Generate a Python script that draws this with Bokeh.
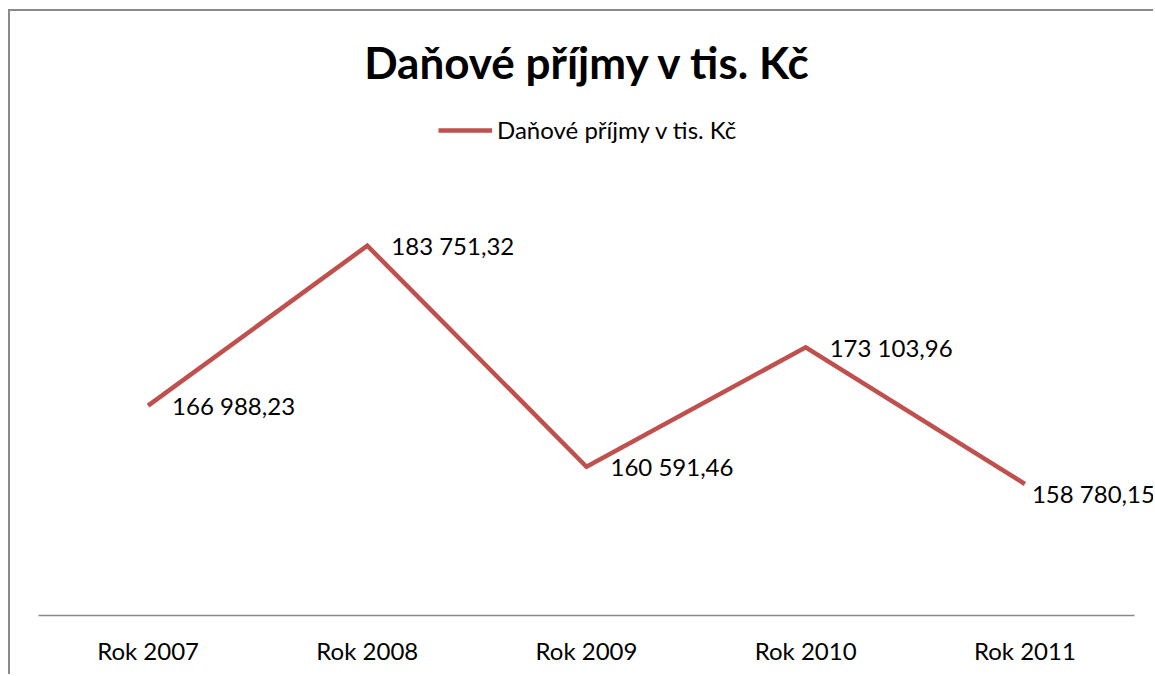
from bokeh.plotting import figure
from bokeh.models import (ColumnDataSource, Range1d, LabelSet, Label, Legend, LegendItem,
                          LinearAxis, FixedTicker)
from bokeh.core.properties import value
from bokeh.embed import file_html
from bokeh.resources import INLINE

title_text = "Daňové příjmy v tis. Kč"
series_name = "Daňové příjmy v tis. Kč"
categories = ["Rok 2007", "Rok 2008", "Rok 2009", "Rok 2010", "Rok 2011"]
values = [166988.23, 183751.32, 160591.46, 173103.96, 158780.15]
labels = ["166 988,23", "183 751,32", "160 591,46", "173 103,96", "158 780,15"]

FONT = "Lato"
RED = "#C0504D"
GREY = "#8a8a8a"
TXT = "24px"

# layout (pixels)
W, H = 1145, 665
ML, MR, MT, MB = 28, 0, 0, 61
frame_w = W - ML - MR
frame_h = H - MT - MB
cat_w = 219.2            # pixel width of one category slot
y_start = 145000         # value at the axis line
y_per_px = 104.79        # value units per pixel

xs = list(range(len(categories)))
src = ColumnDataSource(dict(x=xs, y=values, lab=labels))
src_inner = ColumnDataSource(dict(x=xs[:-1], y=values[:-1], lab=labels[:-1]))

p = figure(width=W, height=H, title=None,
           x_range=Range1d(-0.5, -0.5 + frame_w / cat_w),
           y_range=Range1d(y_start, y_start + frame_h * y_per_px),
           x_axis_location=None, y_axis_location=None,
           output_backend="svg", toolbar_location=None,
           min_border_left=ML, min_border_right=MR, min_border_top=MT, min_border_bottom=MB,
           outline_line_color=None, background_fill_color="white", border_fill_color="white",
           styles={"margin-left": "8px", "margin-top": "9px",
                   "border-left": f"2px solid {GREY}", "border-top": f"2px solid {GREY}"})
p.xgrid.visible = False
p.ygrid.visible = False

r = p.line("x", "y", source=src, line_color=RED, line_width=4.5, line_join="miter")

ax = LinearAxis(ticker=FixedTicker(ticks=xs),
                major_label_overrides={i: c for i, c in zip(xs, categories)},
                bounds=(-0.5, len(categories) - 0.5))
ax.axis_line_color = GREY
ax.axis_line_width = 1.5
ax.major_tick_line_color = None
ax.minor_tick_line_color = None
ax.major_label_text_font = FONT
ax.major_label_text_font_size = TXT
ax.major_label_text_color = "black"
ax.major_label_standoff = 14
p.add_layout(ax, "below")

p.add_layout(LabelSet(x="x", y="y", text="lab", source=src_inner, x_offset=24, y_offset=-9.5,
                      text_baseline="alphabetic", text_align="left", text_font=value(FONT),
                      text_font_size=value(TXT), text_color="black"))
# last label is pulled closer to its point (as in the original, near the edge)
p.add_layout(Label(x=xs[-1], y=values[-1], text=labels[-1], x_offset=7, y_offset=-9.5,
                   text_baseline="alphabetic", text_align="left", text_font=FONT,
                   text_font_size=TXT, text_color="black"))

p.add_layout(Label(x=549.5, y=554, x_units="screen", y_units="screen",
                   text=title_text, text_align="center", text_baseline="alphabetic",
                   text_font=FONT, text_font_size="44px", text_font_style="bold",
                   text_color="black"))

legend = Legend(items=[LegendItem(label=series_name, renderers=[r])],
                location=(400, 471), orientation="horizontal",
                glyph_width=54, glyph_height=24, label_height=24, label_standoff=5,
                padding=0, margin=0, border_line_color=None, background_fill_alpha=0,
                label_text_font=FONT, label_text_font_size=TXT, label_text_color="black")
p.add_layout(legend)

open("out.html", "w").write(file_html(p, INLINE))
